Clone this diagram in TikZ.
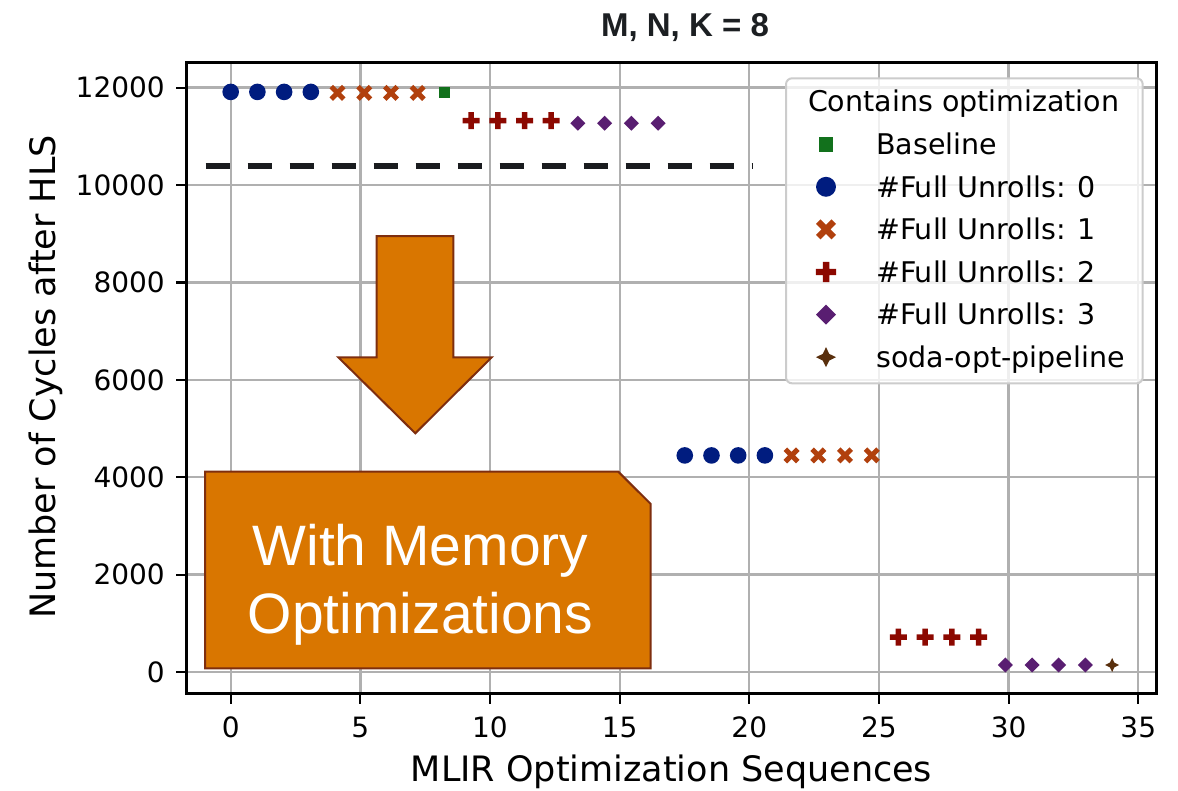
\documentclass[tikz,border=0pt]{standalone}
\usepackage{fontspec}
\setmainfont{DejaVu Sans}
\newfontfamily\arialfont{Liberation Sans}

\definecolor{sbblue}{HTML}{001C7F}
\definecolor{sborange}{HTML}{B1400D}
\definecolor{sbgreen}{HTML}{12711C}
\definecolor{sbred}{HTML}{8C0800}
\definecolor{sbpurple}{HTML}{591E71}
\definecolor{sbbrown}{HTML}{592F0D}
\definecolor{gridgray}{HTML}{B0B0B0}
\definecolor{legendedge}{HTML}{CCCCCC}
\definecolor{calloutfill}{HTML}{D97600}
\definecolor{calloutedge}{HTML}{7E2E0F}
\definecolor{titlegray}{HTML}{1C1F22}
\definecolor{dashgray}{HTML}{1A1C1F}

\begin{document}
\begin{tikzpicture}[x=1pt, y=-1pt,
  ticklabel/.style={font=\fontsize{28}{34}\selectfont, inner sep=0pt},
  axislabel/.style={font=\fontsize{35}{42}\selectfont, inner sep=0pt},
  legendtext/.style={font=\fontsize{28.5}{34}\selectfont, inner sep=0pt, anchor=base west},
  callouttext/.style={font=\arialfont\fontsize{57}{68}\selectfont, text=white, inner sep=0pt, anchor=base},
  gridline/.style={gridgray, line width=2.3pt},
  tickmark/.style={black, line width=2.2pt},
  callout/.style={fill=calloutfill, draw=calloutedge, line width=2pt, line join=miter},
  % scatter markers
  mkcirc/.pic={\fill[sbblue] (0pt,0pt) circle[radius=8.3pt];},
  mkx/.pic={\fill[sborange] (0pt,3.54pt) -- (4.46pt,8pt) -- (8pt,4.46pt) -- (3.54pt,0pt)
     -- (8pt,-4.46pt) -- (4.46pt,-8pt) -- (0pt,-3.54pt) -- (-4.46pt,-8pt) -- (-8pt,-4.46pt)
     -- (-3.54pt,0pt) -- (-8pt,4.46pt) -- (-4.46pt,8pt) -- cycle;},
  mkplus/.pic={\fill[sbred] (2.75pt,2.75pt) -- (2.75pt,8.5pt) -- (-2.75pt,8.5pt) -- (-2.75pt,2.75pt)
     -- (-8.5pt,2.75pt) -- (-8.5pt,-2.75pt) -- (-2.75pt,-2.75pt) -- (-2.75pt,-8.5pt)
     -- (2.75pt,-8.5pt) -- (2.75pt,-2.75pt) -- (8.5pt,-2.75pt) -- (8.5pt,2.75pt) -- cycle;},
  mksq/.pic={\fill[sbgreen] (-5.5pt,-5.5pt) rectangle (5.5pt,5.5pt);},
  mkdia/.pic={\fill[sbpurple] (0pt,7.5pt) -- (7.5pt,0pt) -- (0pt,-7.5pt) -- (-7.5pt,0pt) -- cycle;},
  mkstar/.pic={\fill[sbbrown] (0pt,7pt) -- (2.3pt,2.3pt) -- (7pt,0pt) -- (2.3pt,-2.3pt)
     -- (0pt,-7pt) -- (-2.3pt,-2.3pt) -- (-7pt,0pt) -- (-2.3pt,2.3pt) -- cycle;}
]
\useasboundingbox (0,0) rectangle (1178,790);
\fill[white] (0,0) rectangle (1178,790);

% grid
\foreach \k in {0,...,7}
  \draw[gridline] ({230.7+129.65*\k},62.5) -- ({230.7+129.65*\k},693.5);
\foreach \k in {0,...,6}
  \draw[gridline] (186.5,{672-97.4*\k}) -- (1156.5,{672-97.4*\k});

% reference level
\draw[dashgray, line width=6pt, dash pattern=on 24pt off 18pt] (205.7,165.7) -- (753,165.7);

% data points: x is the sequence index, y the cycle count
\begin{scope}[shift={(230.7,672)}, x=26.71pt, y=0.0487pt]
  \foreach \i in {0,...,3}   \pic at (\i,11910) {mkcirc};
  \foreach \i in {4,...,7}   \pic at (\i,11890) {mkx};
  \pic at (8,11895) {mksq};
  \foreach \i in {9,...,12}  \pic at (\i,11320) {mkplus};
  \foreach \i in {13,...,16} \pic at (\i,11267) {mkdia};
  \foreach \i in {17,...,20} \pic at (\i,4447) {mkcirc};
  \foreach \i in {21,...,24} \pic at (\i,4447) {mkx};
  \foreach \i in {25,...,28} \pic at (\i,714) {mkplus};
  \foreach \i in {29,...,32} \pic at (\i,144) {mkdia};
  \pic at (33,144) {mkstar};
\end{scope}

% callout arrow and label box
\filldraw[callout] (376.7,236) -- (453.3,236) -- (453.3,357.3) -- (491.7,357.3)
  -- (415.3,433.3) -- (338.3,357.3) -- (376.7,357.3) -- cycle;
\filldraw[callout] (205,471.7) -- (618.3,471.7) -- (650.7,504) -- (650.7,668.3)
  -- (205,668.3) -- cycle;
\node[callouttext] (memline1) at (420.5,565) {With Memory};
\node[callouttext] (memline2) at (420.5,633) {Optimizations};

% legend
\draw[legendedge, line width=2pt, fill=white, fill opacity=0.8, rounded corners=6pt]
  (786,78.3) rectangle (1142.7,383.3);
\node[font=\fontsize{28.5}{34}\selectfont, inner sep=0pt, anchor=base] (legtitle)
  at (963.7,111.7) {Contains optimization};
\pic[scale=1.36] at (826,144.2) {mksq};
\node[legendtext] (legbase) at (876,154.5) {Baseline};
\pic[scale=1.2] at (826,186.8) {mkcirc};
\node[legendtext] (legfu0) at (876,197.1) {\#Full Unrolls: 0};
\pic[scale=1.25] at (826,229.4) {mkx};
\node[legendtext] (legfu1) at (876,239.7) {\#Full Unrolls: 1};
\pic[scale=1.18] at (826,272) {mkplus};
\node[legendtext] (legfu2) at (876,282.3) {\#Full Unrolls: 2};
\pic[scale=1.33] at (826,314.6) {mkdia};
\node[legendtext] (legfu3) at (876,324.9) {\#Full Unrolls: 3};
\pic[scale=1.43] at (826,357.2) {mkstar};
\node[legendtext] (legsoda) at (876,367.5) {soda-opt-pipeline};

% axes frame and ticks
\draw[black, line width=2.2pt] (186.5,62.5) rectangle (1156.5,693.5);
\foreach \k [evaluate=\k as \xx using 230.7+129.65*\k, evaluate=\k as \lab using int(5*\k)] in {0,...,7} {
  \draw[tickmark] (\xx,693.5) -- (\xx,703.5);
  \node[ticklabel, anchor=base] (xtick\k) at (\xx,737) {\lab};
}
\foreach \k [evaluate=\k as \yy using 672-97.4*\k, evaluate=\k as \lab using int(2000*\k)] in {0,...,6} {
  \draw[tickmark] (176,\yy) -- (186.5,\yy);
  \node[ticklabel, anchor=base east] (ytick\k) at (165,\yy+10.2) {\lab};
}

% titles
\node[font=\arialfont\bfseries\fontsize{33}{40}\selectfont, text=titlegray, inner sep=0pt, anchor=base]
  (title) at (685,36.7) {M, N, K = 8};
\node[axislabel, anchor=base] (xlabel) at (671.5,781.5) {MLIR Optimization Sequences};
\node[axislabel, anchor=base, rotate=90] (ylabel) at (55.5,377) {Number of Cycles after HLS};
\end{tikzpicture}
\end{document}
